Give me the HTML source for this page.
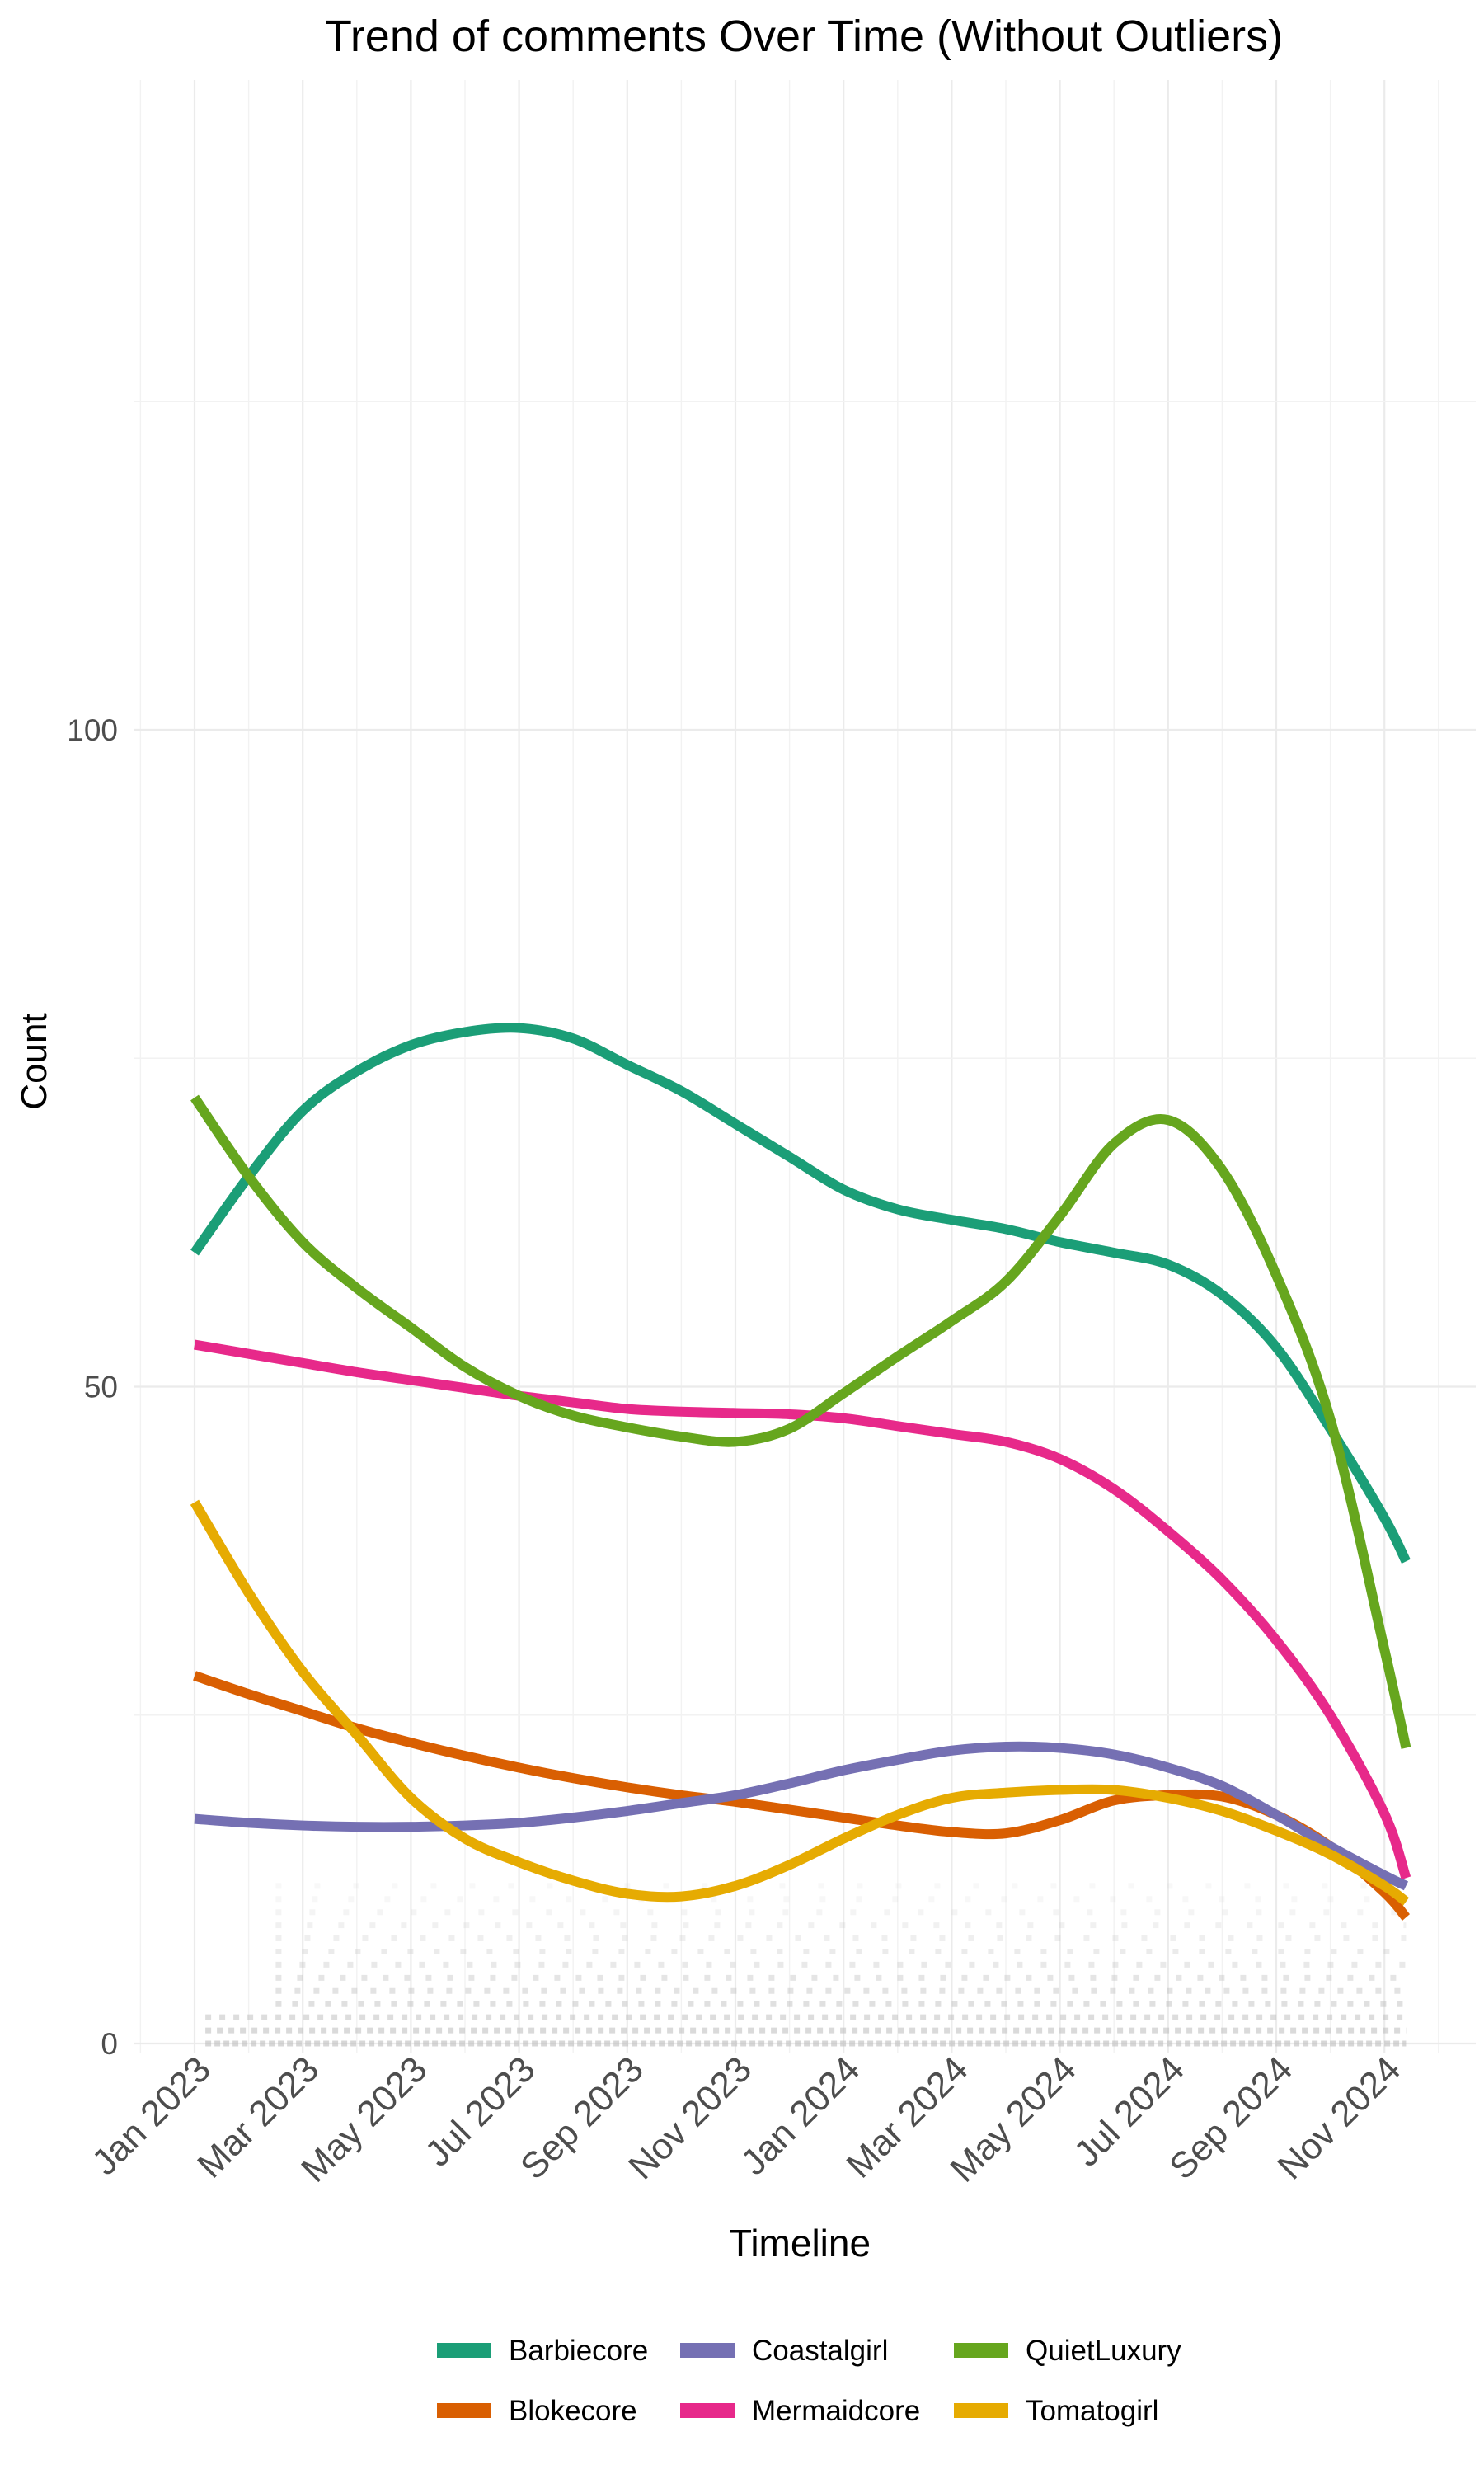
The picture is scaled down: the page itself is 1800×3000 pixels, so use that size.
<!DOCTYPE html>
<html><head><meta charset="utf-8"><style>
html,body{margin:0;padding:0;background:#fff;}
svg{display:block;font-family:"Liberation Sans",sans-serif;}
</style></head><body>
<svg id="chart" width="1800" height="3000" viewBox="0 0 1800 3000">
<text x="975" y="62" font-size="54" text-anchor="middle" fill="#000">Trend of comments Over Time (Without Outliers)</text>
<g id="grid"></g>
<g id="rows"></g>
<g id="lines"></g>
<g id="yaxis"></g>
<g id="xaxis"></g>
<text x="0" y="0" transform="translate(56,1287) rotate(-90)" font-size="44" text-anchor="middle" fill="#000">Count</text>
<text x="970" y="2736" font-size="46" text-anchor="middle" fill="#000">Timeline</text>
<g id="legend"></g>
</svg>
<script>
const monthPos = [0,1,2,3,4,5,6,7,8,9,10,11,12,13,14,15,16,17,18,19,20,21,22,22.4];
const barbiecore  = [60.2,66,71,74,76,77,77.3,76.5,74.5,72.5,70,67.5,65,63.5,62.7,62,61,60.2,59.3,57,53,46.8,40,36.7];
const quietLuxury = [72,66,61,57.5,54.5,51.5,49.3,47.8,46.9,46.2,45.8,46.8,49.5,52.3,55,58,63,68.5,70.3,66.5,58.5,47.5,30,22.5];
const mermaidcore = [53.2,52.5,51.8,51.1,50.5,49.9,49.3,48.8,48.3,48.1,48,47.9,47.6,47,46.4,45.8,44.5,42.2,39,35.3,30.7,25,17.5,12.6];
const tomatogirl  = [41.2,34.3,28.3,23.5,18.7,15.6,13.8,12.4,11.4,11.2,12,13.6,15.6,17.4,18.7,19.1,19.3,19.3,18.7,17.7,16.2,14.4,12,10.8];
const blokecore   = [28,26.6,25.3,24,22.9,21.9,21,20.2,19.5,18.9,18.4,17.8,17.2,16.6,16.1,16,17,18.5,18.9,18.8,17.4,15,11.5,9.6];
const coastalgirl = [17.1,16.8,16.6,16.5,16.5,16.6,16.8,17.2,17.7,18.3,18.9,19.8,20.8,21.6,22.3,22.6,22.5,22,21,19.6,17.4,15,12.8,12];
const xTickLabels = ["Jan 2023","Mar 2023","May 2023","Jul 2023","Sep 2023","Nov 2023","Jan 2024","Mar 2024","May 2024","Jul 2024","Sep 2024","Nov 2024"];
const yTicks = [0,50,100];
const yMinor = [25,75,125];
const seriesNames = ["Barbiecore","Blokecore","Coastalgirl","Mermaidcore","QuietLuxury","Tomatogirl"];
const rowLevels = [0,1,2,3,4,5,6,7,8,9,10,11,12];

const colors = {Barbiecore:"#1B9E77",Blokecore:"#D95F02",Coastalgirl:"#7570B3",Mermaidcore:"#E7298A",QuietLuxury:"#66A61E",Tomatogirl:"#E6AB02"};
const seriesData = {Barbiecore:barbiecore,Blokecore:blokecore,Coastalgirl:coastalgirl,Mermaidcore:mermaidcore,QuietLuxury:quietLuxury,Tomatogirl:tomatogirl};
const NS="http://www.w3.org/2000/svg";
const X0=236, MW=65.6, Y0=2478, PU=15.93;
const PL=163, PR=1790, PT=97, PB=2490;
function xs(m){return X0+m*MW;}
function ys(v){return Y0-v*PU;}
function mk(tag,attrs,parent){const e=document.createElementNS(NS,tag);for(const k in attrs)e.setAttribute(k,attrs[k]);parent.appendChild(e);return e;}

const grid=document.getElementById('grid');
for(let m=-1;m<=24;m++){
  const x=xs(m); if(x<PL||x>PR) continue;
  const major = (m%2===0);
  const l=mk('line',{x1:x,x2:x,y1:PT,y2:PB,stroke:major?"#EBEBEB":"#F2F2F2","stroke-width":major?2.2:1.4},grid);
  
  
}
yMinor.forEach(v=>{
  const l=mk('line',{x1:PL,x2:PR,y1:ys(v),y2:ys(v),stroke:"#F2F2F2","stroke-width":1.4},grid);
  
  
});
yTicks.forEach(v=>{
  const l=mk('line',{x1:PL,x2:PR,y1:ys(v),y2:ys(v),stroke:"#EBEBEB","stroke-width":2.2},grid);
  
  
});

const rows=document.getElementById('rows');
rowLevels.forEach(v=>{
  const op = Math.max(0.1, 0.6 - v*0.045);
  const startM = v<3 ? 0.2 : 1.5;
  const r=mk('line',{x1:xs(startM),x2:xs(22.4),y1:ys(v),y2:ys(v),stroke:"#BDBDBD","stroke-width":7,"stroke-dasharray":"7 "+(4+v*3),opacity:op},rows);
  
  
});

function smoothPath(xsArr,ysArr){
  let d="M"+xsArr[0]+","+ysArr[0];
  for(let i=0;i<xsArr.length-1;i++){
    const p0=i>0?i-1:i, p3=i+2<xsArr.length?i+2:i+1;
    const c1x=xsArr[i]+(xsArr[i+1]-xsArr[p0])/6, c1y=ysArr[i]+(ysArr[i+1]-ysArr[p0])/6;
    const c2x=xsArr[i+1]-(xsArr[p3]-xsArr[i])/6, c2y=ysArr[i+1]-(ysArr[p3]-ysArr[i])/6;
    d+=" C"+c1x+","+c1y+" "+c2x+","+c2y+" "+xsArr[i+1]+","+ysArr[i+1];
  }
  return d;
}
const lines=document.getElementById('lines');
seriesNames.forEach(n=>{
  const vals=seriesData[n];
  const p=mk('path',{d:smoothPath(monthPos.map(xs),vals.map(ys)),fill:"none",stroke:colors[n],"stroke-width":12,"stroke-linejoin":"round"},lines);
  
  
});

const ya=document.getElementById('yaxis');
yTicks.forEach(v=>{
  const t=mk('text',{x:143,y:ys(v)+13,"font-size":37,"text-anchor":"end",fill:"#4D4D4D"},ya);
  t.textContent=v;
  
  
});
const xa=document.getElementById('xaxis');
xTickLabels.forEach((lab,i)=>{
  const x=xs(i*2)+22, y=2512;
  const t=mk('text',{x:x,y:y,"font-size":44,"text-anchor":"end",fill:"#4D4D4D",transform:"rotate(-45 "+x+" "+y+")"},xa);
  t.textContent=lab;
  
  
});

const lg=document.getElementById('legend');
const legOrder=[["Barbiecore",530,2850],["Coastalgirl",825,2850],["QuietLuxury",1157,2850],["Blokecore",530,2923],["Mermaidcore",825,2923],["Tomatogirl",1157,2923]];
legOrder.forEach(([n,x,y])=>{
  const k=mk('rect',{x:x,y:y-9,width:66,height:18,fill:colors[n]},lg);
  
  
  const t=mk('text',{x:x+87,y:y+12,"font-size":35,fill:"#000"},lg);
  t.textContent=n;
  
  
});
</script>
</body></html>
